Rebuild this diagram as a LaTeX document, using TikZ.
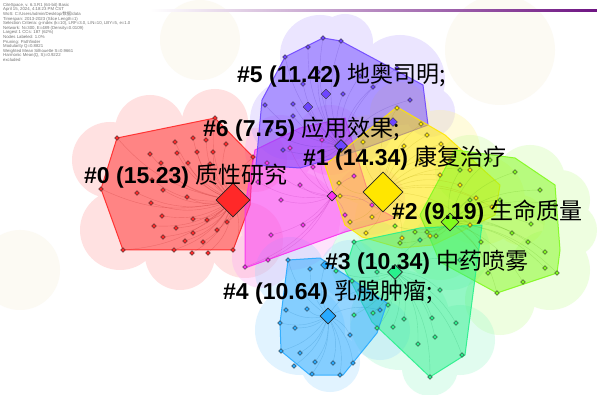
\documentclass[tikz,border=0pt]{standalone}
\usepackage{fontspec}
\setmainfont{Liberation Sans}
\newfontfamily\cjk{Noto Sans CJK SC}
\usetikzlibrary{shapes.geometric}
\definecolor{cred}{RGB}{255,40,40}
\definecolor{cmag}{RGB}{250,50,240}
\definecolor{cpur}{RGB}{110,70,255}
\definecolor{cyel}{RGB}{255,230,0}
\definecolor{cgrn}{RGB}{130,250,30}
\definecolor{ctea}{RGB}{40,240,140}
\definecolor{ccya}{RGB}{40,170,255}
\definecolor{cbar}{RGB}{110,20,130}
\definecolor{cream}{RGB}{252,250,243}

\begin{document}
\begin{tikzpicture}[x=1pt,y=-1pt,
  halo/.style={fill=#1!45!white, fill opacity=0.3},
  hull/.style={fill=#1, fill opacity=0.5, draw=#1, draw opacity=0.9, line width=1pt, line join=round},
  dotnode/.style={shape=diamond, draw=black!80, fill=#1, line width=0.4pt, inner sep=0pt, minimum size=5pt},
  hub/.style={shape=diamond, draw=black!85, fill=#1, line width=0.6pt, inner sep=0pt},
  edgeline/.style={draw=#1!70!black, opacity=0.25, line width=0.4pt},
  clabel/.style={font=\bfseries\fontsize{23}{27}\selectfont, anchor=base west, inner sep=0pt}
]
\fill[white] (0,0) rectangle (597,395);
\useasboundingbox (0,0) rectangle (597,395);

% faint background
\fill[cream] (200,40) circle (40) (500,50) circle (55) (20,270) circle (40);

% header and time bar
\node[anchor=north west, align=left, inner sep=0pt, text=black!55,
  font=\fontsize{4.3}{4.6}\selectfont] (info) at (3,3) {CiteSpace, v. 6.3.R1 (64-bit) Basic\\
April 15, 2024, 4:18:23 PM CST\\
WoS: C:/Users/admin/Desktop/{\cjk 数据}/data\\
Timespan: 2013-2023 (Slice Length=1)\\
Selection Criteria: g-index (k=10), LRF=3.0, L/N=10, LBY=5, e=1.0\\
Network: N=300, E=489 (Density=0.0109)\\
Largest 1 CCs: 187 (62\%)\\
Nodes Labeled: 1.0\%\\
Pruning: Pathfinder\\
Modularity Q=0.8821\\
Weighted Mean Silhouette S=0.9661\\
Harmonic Mean(Q, S)=0.9222\\
excluded};
\shade[left color=white, middle color={rgb,255:red,235;green,70;blue,170}, right color=cbar]
  (150,9.5) rectangle (597,11.5);

% halos
\fill[halo=cred] (110,160) circle (38) (150,130) circle (35) (215,122) circle (33) (255,160) circle (32)
  (120,230) circle (40) (180,255) circle (35) (245,240) circle (38) (180,190) circle (60);
\fill[halo=cmag] (280,150) circle (35) (330,140) circle (35) (370,200) circle (35) (290,220) circle (50) (262,258) circle (30);
\fill[halo=cpur] (320,55) circle (40) (345,42) circle (28) (400,80) circle (45) (430,112) circle (25)
  (290,120) circle (40) (350,120) circle (45);
\fill[halo=cyel] (400,112) circle (30) (440,150) circle (40) (370,160) circle (45) (480,200) circle (45)
  (400,220) circle (45) (520,220) circle (25);
\fill[halo=cgrn] (470,170) circle (35) (530,180) circle (35) (570,230) circle (27) (550,270) circle (40)
  (500,300) circle (35) (440,240) circle (40) (560,200) circle (30);
\fill[halo=ctea] (370,260) circle (40) (450,250) circle (40) (400,320) circle (50) (460,340) circle (35) (430,368) circle (28);
\fill[halo=ccya] (290,272) circle (35) (350,270) circle (30) (300,330) circle (45) (330,362) circle (30) (380,330) circle (30);

% hulls
\draw[hull=cred] (101,189) -- (117,138) -- (215,118) -- (253,157) -- (250,205) -- (233,250) -- (123,250) -- cycle;
\draw[hull=cmag] (245,205) -- (255,150) -- (300,128) -- (345,118) -- (372,205) -- (395,218) -- (345,232) -- (245,268) -- cycle;
\draw[hull=cpur] (285,57) -- (323,38) -- (341,41) -- (423,85) -- (428,125) -- (360,150) -- (300,168) -- (256,165) -- (262,100) -- cycle;
\draw[hull=cyel] (325,165) -- (397,107) -- (445,135) -- (500,185) -- (495,215) -- (433,245) -- (400,248) -- (362,237) -- (345,225) -- cycle;
\draw[hull=cgrn] (420,215) -- (455,150) -- (515,158) -- (555,185) -- (560,250) -- (557,273) -- (497,293) -- (440,262) -- cycle;
\draw[hull=ctea] (345,270) -- (354,242) -- (420,228) -- (482,225) -- (465,355) -- (430,377) -- (372,322) -- cycle;
\draw[hull=ccya] (280,323) -- (288,260) -- (320,258) -- (387,303) -- (377,333) -- (343,375) -- (310,375) -- (281,351) -- cycle;

% cluster #0
\node[hub=cred, minimum size=34pt] (r0) at (233,200) {};
\foreach \x/\y [count=\i] in {117/138,215/118,175/142,193/138,206/140,226/144,150/154,177/153,197/152,213/152,
  253/157,161/163,188/163,210/164,152/180,101/189,137/193,163/190,187/197,227/222,151/203,162/216,193/219,
  207/220,154/226,176/228,193/233,217/230,163/237,185/241,203/242,123/250,174/250,192/253,208/253,233/250}
  {\node[dotnode=cred] (r\i) at (\x,\y) {}; \xdef\nr{\i}}
\foreach \i in {1,...,\nr} \draw[edgeline=cred] (r0) to[bend left=18] (r\i);

% cluster #6
\node[hub=cmag, minimum size=10pt] (m0) at (332,196) {};
\foreach \x/\y [count=\i] in {313/167,303/225,267/163,354/176,281/200,271/235,268/260,245/267,290/148,
  258/182,345/215,372/205,322/140,300/185}
  {\node[dotnode=cmag] (m\i) at (\x,\y) {}; \xdef\nm{\i}}
\foreach \i in {1,...,\nm} \draw[edgeline=cmag] (m0) to[bend left=18] (m\i);

% cluster #5
\node[hub=cpur, minimum size=13pt] (p0) at (341,146) {};
\foreach \x/\y [count=\i] in {285/57,308/47,323/38,341/41,397/68,373/87,343/94,293/104,293/116,318/72,
  360/76,303/84,270/130,283/150,310/160,410/100,265/105}
  {\node[dotnode=cpur] (p\i) at (\x,\y) {}; \xdef\np{\i}}
\node[dotnode=cpur, minimum size=10pt] (pa) at (326,94) {};
\node[dotnode=cpur, minimum size=10pt] (pb) at (308,107) {};
\node[dotnode=cpur, minimum size=9pt] (pc) at (393,122) {};
\foreach \i in {1,...,\np,a,b,c} \draw[edgeline=cpur] (p0) to[bend left=18] (p\i);

% cluster #1
\node[hub=cyel, minimum size=40pt] (y0) at (383,192) {};
\foreach \x/\y [count=\i] in {397/108,421/124,427/135,441/144,404/146,363/142,339/183,340/196,372/217,
  397/214,420/160,440/175,460/185,476/198,492/207,470/225,430/236,402/238,366/233,350/222,450/160,470/170}
  {\node[dotnode=cyel] (y\i) at (\x,\y) {}; \xdef\ny{\i}}
\foreach \i in {1,...,\ny} \draw[edgeline=cyel] (y0) to[bend left=18] (y\i);

% cluster #2
\node[hub=cgrn, minimum size=18pt] (g0) at (450,222) {};
\foreach \x/\y [count=\i] in {395/226,415/232,427/232,436/236,481/242,512/233,528/242,531/224,488/273,
  523/282,557/273,497/293,400/243,460/170,490/160,515/172,540/190,555/205,545/252,470/200,500/200,545/268}
  {\node[dotnode=cgrn] (g\i) at (\x,\y) {}; \xdef\ng{\i}}
\foreach \i in {1,...,\ng} \draw[edgeline=cgrn] (g0) to[bend left=18] (g\i);

% cluster #3
\node[hub=ctea, minimum size=15pt] (t0) at (395,272) {};
\foreach \x/\y [count=\i] in {354/242,377/272,336/271,352/281,373/313,354/315,388/305,404/319,432/318,
  377/328,393/327,456/323,435/337,418/344,462/355,430/377,420/240,460/260,440/290}
  {\node[dotnode=ctea] (t\i) at (\x,\y) {}; \xdef\nt{\i}}
\foreach \i in {1,...,\nt} \draw[edgeline=ctea] (t0) to[bend left=18] (t\i);

% cluster #4
\node[hub=ccya, minimum size=16pt] (c0) at (328,316) {};
\foreach \x/\y [count=\i] in {288/260,310/269,286/310,280/323,295/328,307/309,281/351,300/353,315/362,
  333/363,353/363,294/366,312/374,340/375,360/290,380/310,350/335}
  {\node[dotnode=ccya] (c\i) at (\x,\y) {}; \xdef\nc{\i}}
\node[dotnode=ccya, minimum size=9pt] (ca) at (325,265) {};
\foreach \i in {1,...,\nc,a} \draw[edgeline=ccya] (c0) to[bend left=18] (c\i);

% cluster labels
\node[clabel] (l5) at (237,83) {\#5 (11.42) {\cjk\mdseries 地奥司明;}};
\node[clabel] (l6) at (203,137) {\#6 (7.75) {\cjk\mdseries 应用效果;}};
\node[clabel] (l1) at (303,166) {\#1 (14.34) {\cjk\mdseries 康复治疗}};
\node[clabel] (l0) at (84,184) {\#0 (15.23) {\cjk\mdseries 质性研究}};
\node[clabel] (l2) at (392,220) {\#2 (9.19) {\cjk\mdseries 生命质量}};
\node[clabel] (l3) at (325,270) {\#3 (10.34) {\cjk\mdseries 中药喷雾}};
\node[clabel] (l4) at (223,300) {\#4 (10.64) {\cjk\mdseries 乳腺肿瘤;}};
\end{tikzpicture}
\end{document}
